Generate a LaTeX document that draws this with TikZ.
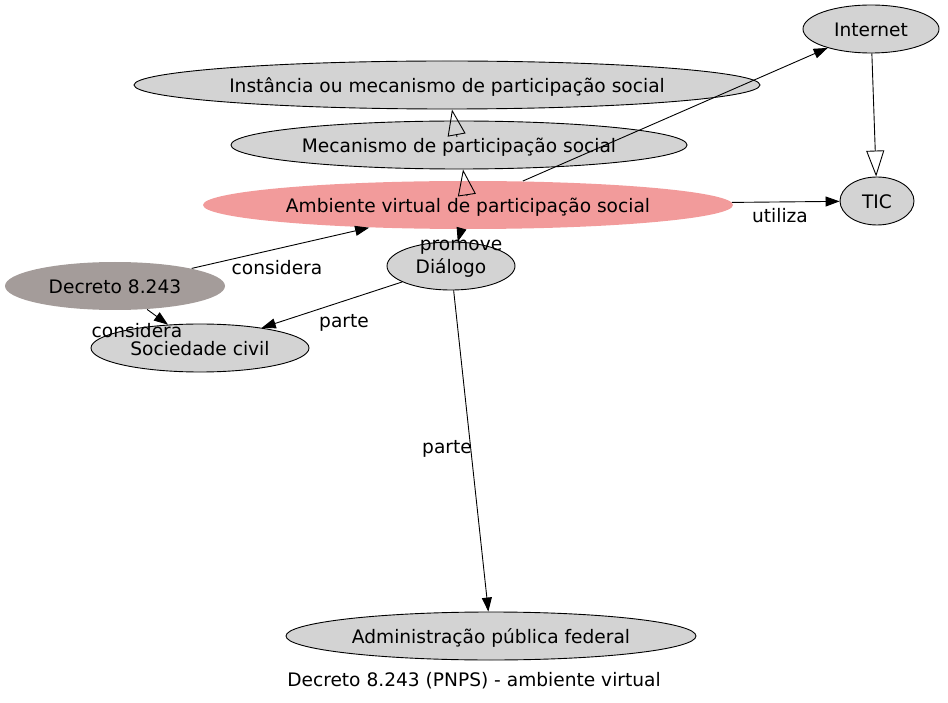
\documentclass[tikz,border=0pt]{standalone}
\usepackage{fontspec}
\setmainfont{DejaVu Sans}
\usetikzlibrary{shapes.geometric,arrows.meta}
\definecolor{nodegray}{RGB}{211,211,211}
\definecolor{ambpink}{RGB}{242,155,155}
\definecolor{decgray}{RGB}{164,156,154}
\tikzset{
  concept/.style={ellipse, draw=black, line width=0.9pt, fill=nodegray, inner sep=0pt,
    minimum height=48pt, text height=17pt, text depth=2pt, font=\fontsize{18.6}{21}\selectfont},
  rel/.style={line width=0.9pt, -{Triangle[length=14pt,width=10pt]}},
  isa/.style={line width=0.9pt, -{Triangle[open,length=26pt,width=18pt]}},
  lbl/.style={font=\fontsize{18.6}{21}\selectfont, inner sep=0pt, text height=17pt, text depth=2pt},
}
\begin{document}
\begin{tikzpicture}[x=1pt,y=-1pt]
\useasboundingbox (0,0) rectangle (948,703);
% label under the top node
\node[lbl] (lblnet) at (668,89) {utiliza};
% concepts
\node[concept, minimum width=626pt] (inst) at (447,85) {Instância ou mecanismo de participação social};
\node[concept, minimum width=456pt] (mec) at (459,145) {Mecanismo de participação social};
\node[concept, draw=none, fill=ambpink, minimum width=530pt] (amb) at (468,205) {Ambiente virtual de participação social};
\node[concept, minimum width=136pt] (internet) at (871,29) {Internet};
\node[concept, minimum width=74pt] (tic) at (877,201) {TIC};
\node[concept, minimum width=128pt] (dial) at (451,266) {Diálogo};
\node[concept, draw=none, fill=decgray, minimum width=220pt] (dec) at (115,286) {Decreto 8.243};
\node[concept, minimum width=218pt] (soc) at (200,348) {Sociedade civil};
\node[concept, minimum width=410pt] (adm) at (491,636) {Administração pública federal};
\coordinate (mecIsa) at (457,137);
\coordinate (ambIsa) at (467,196);
% relations
\draw[isa] (mecIsa) -- ([xshift=5pt]inst.south);
\draw[isa] (ambIsa) -- ([xshift=4pt]mec.south);
\draw[isa] (internet) -- (tic);
\draw[rel] (amb) -- (internet);
\draw[rel] (amb) -- (tic);
\draw[rel] (amb) -- (dial);
\draw[rel] (dec) -- (amb);
\draw[rel] (dec) -- (soc);
\draw[rel] (dial) -- (soc);
\draw[rel] (dial) -- (adm);
% labels
\node[lbl] (lbluse) at (780,215) {utiliza};
\node[lbl] (lblprom) at (461,243) {promove};
\node[lbl] (lblcons) at (277,267) {considera};
\node[lbl] (lblcons2) at (137,330) {considera};
\node[lbl] (lblpart) at (344,320) {parte};
\node[lbl] (lblpart2) at (447,446) {parte};
\node[lbl] (title) at (474,679) {Decreto 8.243 (PNPS) - ambiente virtual};
\end{tikzpicture}
\end{document}
